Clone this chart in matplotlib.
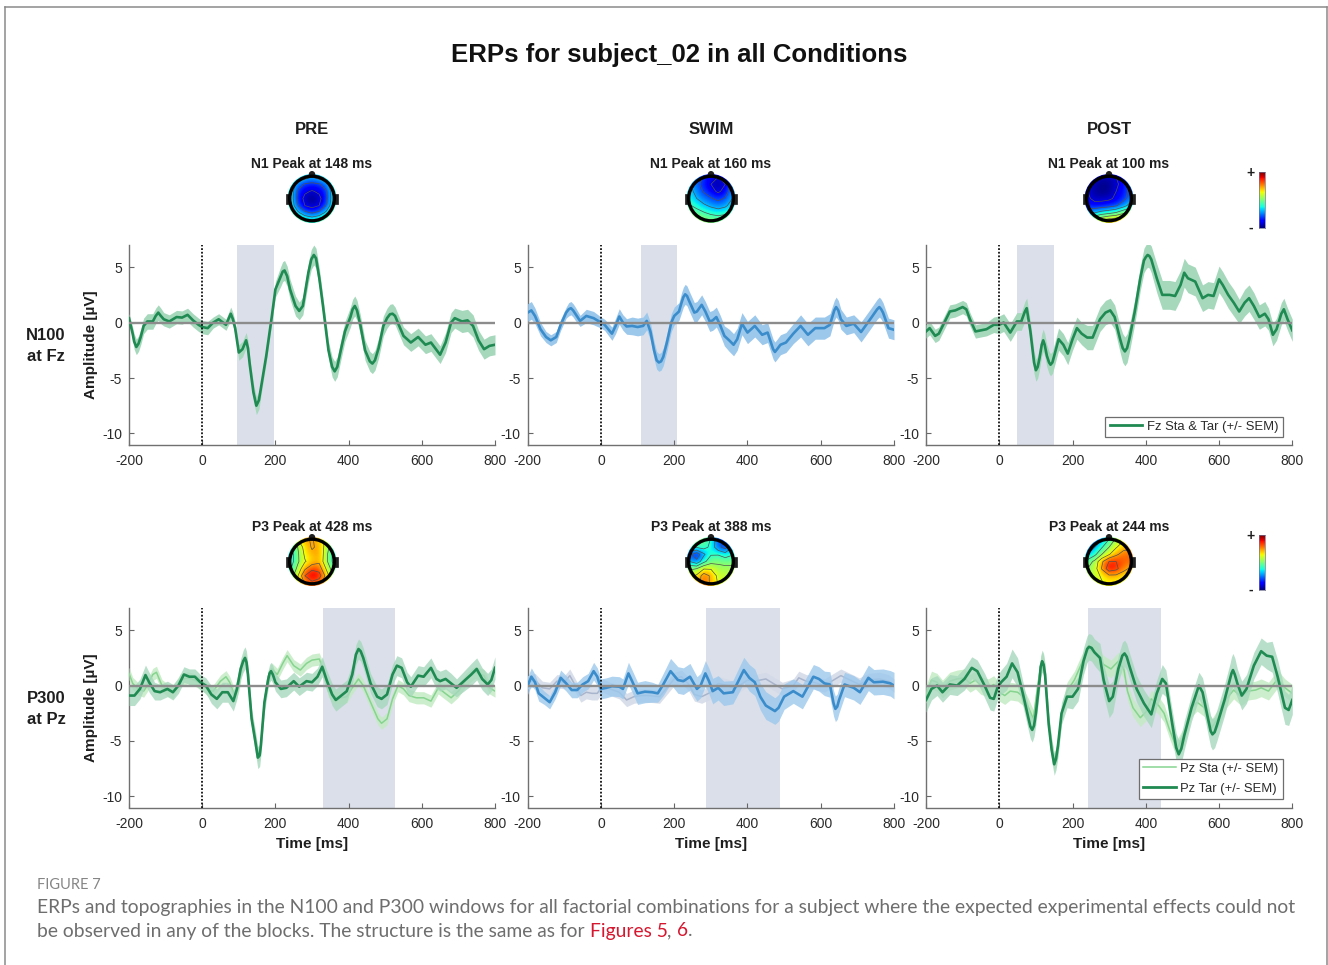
"""Recreate the ERP / topography figure (subject_02, all conditions)."""
import numpy as np
import matplotlib
matplotlib.use("Agg")
import matplotlib.pyplot as plt
from matplotlib.lines import Line2D
from matplotlib.patches import Circle, Rectangle

plt.rcParams["font.family"] = ["Liberation Sans", "DejaVu Sans"]
plt.rcParams["axes.unicode_minus"] = False

W, H = 1328, 965
COLS = ["PRE", "SWIM", "POST"]
N1_TITLES = ["N1 Peak at 148 ms", "N1 Peak at 160 ms", "N1 Peak at 100 ms"]
P3_TITLES = ["P3 Peak at 428 ms", "P3 Peak at 388 ms", "P3 Peak at 244 ms"]
X_TICKS = [-200, 0, 200, 400, 600, 800]
Y_TICKS = [-10, -5, 0, 5]

# grey analysis windows, ms
N1_WIN = [(96, 196), (108, 208), (49, 149)]
P3_WIN = [(329, 528), (288, 488), (241, 441)]

# --- N100 at Fz
pre_fz_t = [-200, -190, -186, -180, -174, -168, -160, -150, -135, -127, -120, -113, -105, -90,
            -70, -55, -40, -25, -10, 0, 15, 30, 45, 65,
            78, 84, 90, 100, 110, 120, 125, 130, 140, 148, 155, 160, 175, 190,
            200, 215, 220, 225, 232, 240, 255, 265, 275, 290, 298, 305, 311, 320,
            330, 345, 355, 362, 369, 378, 390, 405, 411, 417, 423, 432, 445, 458, 465, 472,
            482, 495, 505, 513, 520, 527, 537, 550, 570, 590, 610, 625,
            650, 665, 680, 690, 710, 725, 740, 755, 770, 785, 800]
pre_fz_v = [0.4, -1.0, -1.7, -2.2, -1.9, -1.3, -0.3, 0.1, 0.1, 0.6, 0.9, 0.6, 0.3, 0.1,
            0.5, 0.45, 0.7, 0.2, -0.2, -0.4, -0.5, 0.0, 0.3, -0.2,
            0.8, 0.3, -0.5, -2.7, -2.4, -1.6, -2.3, -3.8, -6.3, -7.5, -7.0, -6.0, -3.0, 0.5,
            3.0, 4.2, 4.6, 4.7, 4.2, 3.0, 1.5, 1.05, 1.5, 4.5, 5.7, 6.1, 5.8, 4.0,
            1.5, -2.5, -4.0, -4.4, -4.0, -2.6, -0.8, 0.5, 1.2, 1.5, 1.1, -0.2, -2.5, -3.5, -3.7, -3.4,
            -2.3, -0.3, 0.4, 0.75, 0.8, 0.6, -0.2, -1.2, -1.8, -1.3, -2.0, -1.8,
            -2.9, -1.8, 0.0, 0.4, 0.1, 0.2, -0.3, -1.6, -2.4, -2.1, -2.0]
pre_fz_s = [0.4, 0.6, 0.7, 0.7, 0.7, 0.7, 0.7, 0.7, 0.7, 0.7, 0.7, 0.7, 0.6, 0.6,
            0.6, 0.6, 0.6, 0.6, 0.6, 0.6, 0.6, 0.5, 0.5, 0.5,
            0.6, 0.6, 0.6, 0.7, 0.7, 0.7, 0.7, 0.7, 0.8, 0.8, 0.8, 0.7, 0.6, 0.6,
            0.7, 0.9, 0.9, 0.9, 0.9, 0.9, 0.9, 0.8, 0.8, 0.9, 0.9, 0.9, 0.9, 0.9,
            0.8, 0.8, 0.9, 0.9, 0.9, 0.9, 0.9, 0.9, 0.9, 0.9, 0.9, 0.9, 0.9, 0.9, 0.9, 0.9,
            0.9, 0.9, 0.9, 0.9, 0.9, 0.8, 0.8, 0.8, 0.8, 0.8, 0.8, 0.8,
            0.8, 0.9, 0.9, 0.9, 1.0, 1.0, 1.0, 0.9, 0.9, 0.9, 0.9]

swim_fz_t = [-200, -190, -180, -165, -150, -137, -122, -110, -95, -88, -82, -76,
             -70, -57, -40, -20, 0, 10, 30, 40, 50, 60,
             70, 85, 100, 115, 125, 135, 145, 152, 158, 164, 170, 180,
             192, 200, 213, 220, 225, 230, 235, 240, 255, 262, 275, 285,
             297, 305, 315, 325, 337, 350, 362, 372, 385, 400,
             420, 440, 455, 470, 475, 481, 490, 505, 525, 545, 565, 585,
             610, 625, 637, 642, 648, 655, 670, 690, 710, 735, 754, 760, 765, 770, 785, 800]
swim_fz_v = [0.9, 1.1, 0.6, -0.6, -1.3, -1.6, -1.3, -0.2, 0.9, 1.2, 1.3, 1.1,
             0.8, 0.15, 0.6, 0.4, 0.0, -0.2, -1.0, -0.3, 0.55, 0.0,
             -0.35, -0.3, -0.4, -0.3, 0.15, -0.8, -2.5, -3.4, -3.6, -3.5, -3.1, -1.8,
             0.0, 0.6, 1.0, 1.8, 2.3, 2.55, 2.4, 2.0, 0.9, 1.0, 1.6, 1.0,
             0.1, 0.2, 0.5, -0.2, -1.2, -1.6, -2.0, -1.5, -0.1, -0.9,
             -0.3, -1.1, -0.9, -2.4, -2.65, -2.4, -2.0, -1.8, -1.0, -0.3, -1.1, -0.5,
             -0.5, -0.2, 1.1, 1.4, 1.1, 0.3, -0.3, -0.1, -0.85, 0.3, 1.2, 1.4, 1.2, 0.9, -0.5, -0.65]
swim_fz_s = [0.8, 0.8, 0.7, 0.6, 0.5, 0.5, 0.5, 0.5, 0.5, 0.6, 0.6, 0.6,
             0.6, 0.5, 0.6, 0.6, 0.5, 0.5, 0.6, 0.7, 0.7, 0.7,
             0.7, 0.8, 0.8, 0.8, 0.8, 0.8, 0.8, 0.8, 0.8, 0.8, 0.8, 0.8,
             0.8, 0.8, 0.8, 0.9, 0.9, 0.9, 0.9, 0.9, 0.9, 0.9, 0.9, 0.9,
             0.9, 0.9, 0.9, 0.9, 0.9, 1.0, 1.0, 1.0, 1.0, 1.0,
             1.0, 0.9, 0.9, 0.9, 0.9, 0.9, 0.9, 0.9, 0.9, 1.0, 1.0, 1.0,
             1.0, 1.0, 0.9, 0.9, 0.9, 0.9, 0.8, 0.8, 0.9, 0.9, 0.9, 0.9, 0.9, 0.9, 0.9, 0.9]

post_fz_t = [-200, -190, -175, -165, -150, -135, -120, -100, -90, -80,
             -65, -50, -35, -15, 0, 12, 30, 48, 60, 70, 75,
             85, 95, 100, 105, 110, 116, 120, 124, 130, 136, 140, 145, 150, 162, 175, 187,
             200, 212, 225, 240, 255, 275, 290, 303, 315, 330,
             337, 343, 349, 355, 370, 385, 395, 400, 405, 410, 415, 430, 445, 465,
             480, 495, 505, 515, 535, 555, 570, 585, 600, 610,
             625, 640, 655, 670, 682, 695, 710, 725, 735, 747,
             757, 770, 777, 787, 800]
post_fz_v = [-0.8, -0.5, -1.2, -1.0, 0.0, 1.0, 1.1, 1.4, 1.2, 0.3,
             -0.8, -0.7, -0.6, -0.2, -0.2, 0.0, -0.9, 0.1, 0.1, 1.0, 1.3,
             -0.8, -3.6, -4.3, -4.0, -3.2, -2.0, -1.6, -2.0, -3.0, -3.6, -3.8, -3.6, -3.0, -1.5, -2.0, -2.8,
             -1.5, -0.5, -1.0, -1.35, -1.35, 0.3, 0.9, 1.1, 0.5, -1.5,
             -2.3, -2.6, -2.3, -1.5, 1.0, 4.0, 5.6, 5.9, 6.1, 6.0, 5.7, 4.0, 2.5, 2.5,
             2.4, 3.4, 4.5, 4.0, 3.7, 2.2, 2.5, 2.4, 3.9, 3.4,
             2.5, 1.8, 1.0, 1.8, 2.2, 1.5, 0.5, 0.8, 0.3, -1.1,
             -0.6, 0.8, 1.2, 0.3, -0.7]
post_fz_s = [0.6, 0.6, 0.6, 0.6, 0.6, 0.6, 0.6, 0.6, 0.6, 0.6,
             0.6, 0.6, 0.6, 0.7, 0.8, 0.8, 0.8, 0.8, 0.8, 0.9, 0.9,
             0.9, 1.0, 1.0, 1.0, 1.0, 1.0, 1.0, 1.0, 1.0, 1.0, 1.0, 1.0, 1.0, 1.0, 1.0, 1.0,
             1.0, 1.0, 1.0, 1.1, 1.1, 1.1, 1.1, 1.1, 1.1, 1.2,
             1.3, 1.3, 1.3, 1.2, 1.1, 1.1, 1.1, 1.1, 1.1, 1.1, 1.2, 1.3, 1.3, 1.3,
             1.3, 1.3, 1.3, 1.3, 1.3, 1.2, 1.2, 1.2, 1.2, 1.2,
             1.2, 1.2, 1.1, 1.2, 1.2, 1.2, 1.1, 1.1, 1.0, 1.0,
             1.0, 1.0, 1.0, 1.0, 1.0]

# --- P300 at Pz, targets
pre_tar_t = [-200, -185, -170, -155, -145, -130, -115, -95, -80, -65,
             -50, -35, -20, -5, 10, 25, 40, 55, 70, 85,
             95, 105, 112, 117, 121, 125, 135, 145, 152, 157, 160, 170, 180, 184, 188, 193,
             200, 215, 230, 250, 265, 285, 300, 315, 328, 340,
             355, 365, 380, 395, 410, 420, 427, 433, 440, 460, 478, 490,
             505, 520, 532, 545, 560, 570, 590, 605, 625, 640,
             650, 665, 680, 695, 715, 735, 750, 765, 780, 790, 800]
pre_tar_v = [-0.9, -0.9, -0.3, 0.95, 0.3, -0.5, -0.6, -0.3, -0.6, 0.0,
             1.0, 0.8, 0.8, 0.3, 0.0, -0.8, -1.2, -0.6, -0.6, -1.4,
             -0.3, 1.5, 2.2, 2.5, 2.1, 1.0, -3.0, -5.0, -6.5, -6.3, -5.5, -1.5, 0.5, 1.1, 1.3, 1.0,
             0.3, -0.3, -0.2, 0.4, -0.1, 0.4, 0.3, 0.8, 1.7, 0.5,
             -0.8, -1.3, -0.9, -0.5, 1.0, 2.8, 3.3, 3.1, 2.5, 0.2, -1.0, -1.2,
             -0.8, 1.0, 1.8, 1.6, 0.3, -0.1, 0.9, 0.8, 1.6, 0.6,
             0.4, 0.6, 0.2, -0.2, 0.4, 1.0, 1.5, 0.6, 0.1, 0.5, 1.6]
pre_tar_s = [0.9, 0.9, 0.9, 0.9, 0.9, 0.8, 0.7, 0.7, 0.7, 0.7,
             0.7, 0.7, 0.7, 0.7, 0.7, 0.8, 0.9, 0.9, 0.9, 0.9,
             0.9, 0.9, 1.0, 1.0, 1.0, 0.9, 0.9, 1.0, 1.0, 1.0, 0.9, 0.9, 0.8, 0.8, 0.8, 0.8,
             0.8, 0.8, 0.8, 0.8, 0.8, 0.8, 0.8, 0.8, 0.9, 0.9,
             1.0, 1.0, 1.0, 1.0, 0.9, 0.9, 0.9, 0.9, 0.9, 0.9, 0.9, 0.9,
             0.9, 0.9, 0.9, 0.9, 0.9, 0.9, 0.9, 0.9, 0.9, 0.9,
             0.9, 0.9, 0.9, 0.8, 0.9, 1.0, 1.0, 1.0, 1.0, 1.0, 1.0]
swim_tar_t = [-200, -190, -180, -170, -155, -140, -125, -110, -95, -80,
              -65, -50, -35, -20, -10, 0, 15, 30, 50, 60,
              75, 85, 100, 120, 140, 155, 170, 190, 210, 225,
              243, 262, 272, 285, 295, 305, 320, 335, 360, 372,
              390, 405, 420, 435, 450, 475, 485, 500, 525, 540,
              550, 565, 580, 595, 610, 625, 635, 640, 645, 650, 665, 690,
              707, 730, 745, 770, 790, 800]
swim_tar_v = [0.0, 0.8, 0.3, -0.7, -1.1, -1.5, -0.6, 0.7, 0.2, -0.4,
              -0.4, 0.1, 0.4, 1.3, 0.8, -0.3, -0.2, -0.05, -0.1, -0.3,
              1.1, 0.4, -0.7, -0.55, -0.6, -0.7, 0.1, 1.3, 0.5, 0.4,
              0.8, -0.3, 0.0, 1.1, 0.4, -0.5, -0.2, -0.7, -0.6, 0.2,
              1.4, 0.7, 0.3, -1.0, -1.8, -2.3, -2.0, -1.0, -0.5, -0.8,
              -1.0, -0.1, 0.8, 0.6, 0.2, 0.1, -1.6, -2.1, -1.9, -1.3, 0.1, -0.2,
              -0.6, 0.7, 0.3, 0.35, 0.2, 0.0]
swim_tar_s = [0.8, 0.8, 0.7, 0.7, 0.6, 0.6, 0.6, 0.7, 0.7, 0.7,
              0.7, 0.7, 0.7, 0.8, 0.8, 0.9, 0.9, 0.9, 0.9, 0.9,
              1.0, 1.0, 1.0, 1.0, 0.9, 0.8, 1.0, 1.15, 1.2, 1.2,
              1.2, 1.1, 1.1, 1.15, 1.15, 1.15, 1.1, 1.1, 1.05, 1.1,
              1.15, 1.2, 1.2, 1.2, 1.25, 1.2, 1.2, 1.15, 1.1, 1.1,
              1.1, 1.1, 1.1, 1.1, 1.1, 1.15, 1.15, 1.15, 1.15, 1.15, 1.1, 1.1,
              1.1, 1.15, 1.15, 1.15, 1.15, 1.2]
post_tar_t = [-200, -185, -170, -155, -135, -115, -95, -75, -60, -40,
              -25, -15, -5, 5, 20, 35, 50, 65, 80, 85, 90, 95,
              100, 110, 113, 117, 121, 125, 135, 143, 150, 155, 160, 170, 185, 200,
              215, 230, 240, 245, 252, 260, 275, 285, 300, 310, 325, 336, 342, 348,
              355, 375, 395, 415, 430, 445, 455, 470, 483, 490, 497, 505,
              525, 545, 555, 570, 577, 582, 588, 595, 615, 630, 634, 638, 643, 650,
              662, 675, 695, 715, 730, 745, 760, 780, 790, 800]
post_tar_v = [-1.3, -0.3, 0.0, -0.6, 0.1, 0.0, 0.6, 1.6, 1.3, 0.0,
              -1.1, -1.2, -0.2, 0.3, 0.8, 2.0, 1.2, -0.8, -3.0, -3.7, -4.0, -3.6,
              -2.5, 0.5, 1.7, 2.2, 1.9, 1.0, -3.5, -5.8, -7.1, -6.6, -5.5, -2.5, -1.0, -1.0,
              -0.3, 2.2, 3.3, 3.5, 3.4, 3.0, 2.5, 0.5, -1.4, -1.0, 1.5, 2.7, 2.9, 2.6,
              1.8, -0.3, -1.6, -2.6, -0.7, 0.6, 0.2, -3.0, -5.6, -6.2, -5.7, -4.5,
              -2.0, 0.0, -0.6, -3.0, -4.1, -4.4, -4.2, -3.5, -1.3, 0.6, 1.1, 1.4, 1.0, 0.2,
              -0.9, -0.3, 1.8, 3.1, 2.7, 2.6, 0.8, -2.0, -2.2, -1.3]
post_tar_s = [1.1, 1.0, 0.9, 0.9, 0.9, 0.9, 1.0, 1.0, 1.0, 1.1,
              1.1, 1.1, 1.1, 1.1, 1.2, 1.3, 1.3, 1.1, 1.1, 1.1, 1.1, 1.0,
              1.0, 1.0, 1.0, 1.0, 1.0, 1.0, 1.0, 1.0, 1.0, 1.0, 1.0, 1.0, 1.0, 1.1,
              1.1, 1.2, 1.2, 1.2, 1.2, 1.2, 1.3, 1.4, 1.5, 1.4, 1.2, 1.2, 1.2, 1.2,
              1.2, 1.2, 1.2, 1.2, 1.2, 1.3, 1.2, 1.2, 1.3, 1.3, 1.3, 1.3,
              1.2, 1.2, 1.3, 1.4, 1.4, 1.4, 1.4, 1.4, 1.4, 1.4, 1.5, 1.5, 1.5, 1.3,
              1.3, 1.3, 1.2, 1.2, 1.2, 1.4, 1.5, 1.5, 1.4, 1.3]

# --- P300 at Pz, standards
pre_sta_t = [-200, -190, -175, -160, -150, -135, -125, -110, -95, -80,
             -60, -40, -20, 0, 15, 30, 50, 65, 75, 90,
             100, 112, 117, 121, 125, 135, 145, 152, 157, 160, 170, 180, 190, 205,
             220, 232, 250, 268, 285, 300, 320, 330, 345, 360,
             380, 395, 410, 427, 440, 460, 480, 490, 505, 520,
             535, 550, 565, 585, 605, 625, 645, 660, 680, 700,
             720, 745, 770, 785, 800]
pre_sta_v = [1.1, 0.2, -0.3, -0.5, 0.0, 1.0, 1.2, 0.0, -0.4, -0.6,
             0.5, 0.7, 0.5, 0.1, -0.4, -0.5, 0.4, 0.8, 0.3, -1.0,
             0.0, 2.2, 2.5, 2.1, 1.0, -3.0, -4.9, -6.3, -6.1, -5.4, -1.5, 0.8, 1.5, 1.0,
             2.0, 2.7, 1.8, 1.4, 2.0, 2.3, 2.4, 1.5, -0.5, -1.0,
             -1.1, -1.0, -0.2, 0.6, 0.0, -1.5, -3.0, -3.4, -3.0, -1.2,
             0.0, -0.3, -0.9, -1.1, -1.1, -1.4, -0.2, -0.6, -1.1, -0.5,
             0.5, 1.2, 0.9, -0.2, -0.5]
pre_sta_s = [0.55] * len(pre_sta_t)
swim_sta_t = [-200, -180, -160, -140, -120, -100, -85, -70, -55, -40,
              -25, -10, 5, 25, 50, 70, 90, 110, 130, 160,
              180, 200, 220, 240, 255, 275, 300, 320, 345, 365,
              400, 420, 450, 470, 495, 525, 540, 560, 580, 610,
              635, 655, 680, 705, 730, 760, 785, 800]
swim_sta_v = [0.3, 0.5, -0.2, -0.3, 0.4, 0.3, 0.9, 0.0, -0.9, -0.6,
              -0.7, -0.7, 0.0, -0.3, -0.6, -1.3, -1.0, -0.9, -0.9, -1.0,
              -0.2, 0.6, 0.8, 0.1, -0.8, -1.0, -0.6, 0.2, 0.0, -0.3,
              0.5, 0.4, 0.6, 0.2, -0.3, 0.0, 0.7, 0.4, 0.3, 0.0,
              0.5, 0.9, 0.5, 0.1, 0.5, 0.6, 0.4, 0.0]
swim_sta_s = [0.6] * len(swim_sta_t)
post_sta_t = [-200, -185, -170, -155, -135, -115, -95, -80, -65, -50,
              -30, -15, 0, 15, 30, 50, 65, 80, 93, 105,
              113, 117, 121, 125, 135, 143, 150, 155, 160, 170, 185, 205, 225, 245,
              265, 285, 305, 325, 340, 350, 365, 385, 400, 415,
              435, 450, 465, 485, 505, 525, 540, 560, 580, 600,
              620, 640, 660, 680, 700, 715, 735, 760, 780, 800]
post_sta_v = [-0.8, 0.5, 0.3, -0.3, 0.4, 0.6, 0.7, 0.2, 0.5, 0.0,
              -0.2, 0.1, -0.6, -0.9, -0.5, -0.6, -1.0, -2.0, -3.0, 0.0,
              1.7, 2.2, 1.9, 1.0, -3.5, -5.6, -6.9, -6.5, -5.5, -2.6, -0.5, 0.5, 2.0, 3.3,
              2.8, 1.9, 1.5, 2.2, 1.5, -0.5, -2.0, -2.9, -2.4, -1.2,
              -1.8, -2.5, -4.0, -5.7, -4.5, -2.0, -1.5, -2.0, -3.8, -2.8,
              -1.2, -0.4, -1.0, -0.5, -0.4, -0.2, -0.5, 0.6, -0.2, -0.7]
post_sta_s = [0.8] * len(post_sta_t)

# --- scalp maps, 0 = minimum of colour scale, 1 = maximum; front of the head on top
topo_n1_pre = [[.45, .40, .35, .30, .35, .40, .45],
               [.40, .25, .18, .16, .18, .25, .40],
               [.38, .18, .10, .07, .10, .18, .38],
               [.38, .16, .05, .01, .05, .16, .38],
               [.40, .20, .08, .04, .08, .20, .40],
               [.45, .33, .22, .18, .22, .33, .45],
               [.55, .50, .42, .38, .42, .50, .55]]
topo_n1_swim = [[.30, .25, .18, .10, .08, .15, .30],
                [.32, .22, .15, .08, .02, .08, .25],
                [.35, .25, .18, .12, .06, .12, .28],
                [.38, .30, .24, .20, .16, .20, .30],
                [.42, .38, .32, .28, .25, .28, .35],
                [.50, .45, .42, .38, .36, .38, .42],
                [.58, .55, .52, .50, .48, .50, .52]]
topo_n1_post = [[.10, .08, .05, .05, .08, .15, .30],
                [.08, .04, .01, .02, .06, .12, .25],
                [.08, .03, .01, .02, .08, .14, .22],
                [.10, .05, .05, .06, .10, .16, .24],
                [.15, .12, .13, .15, .18, .25, .35],
                [.25, .30, .35, .38, .42, .50, .55],
                [.45, .55, .62, .68, .70, .68, .65]]
topo_p3_pre = [[.55, .62, .72, .75, .70, .60, .50],
               [.40, .52, .68, .75, .72, .58, .42],
               [.35, .50, .65, .72, .74, .55, .38],
               [.35, .50, .62, .68, .72, .55, .38],
               [.40, .55, .72, .82, .80, .62, .45],
               [.45, .62, .85, .95, .90, .70, .50],
               [.50, .62, .75, .82, .78, .68, .55]]
topo_p3_swim = [[.55, .52, .48, .40, .22, .18, .30],
                [.42, .42, .45, .38, .22, .15, .30],
                [.22, .12, .28, .40, .40, .35, .40],
                [.30, .22, .38, .48, .50, .48, .48],
                [.50, .52, .62, .62, .55, .55, .55],
                [.60, .65, .80, .72, .60, .58, .58],
                [.65, .68, .80, .72, .62, .60, .60]]
topo_p3_post = [[.22, .22, .30, .42, .55, .62, .65],
                [.25, .30, .40, .52, .62, .70, .72],
                [.30, .38, .52, .62, .72, .78, .80],
                [.45, .55, .72, .85, .85, .82, .80],
                [.52, .58, .75, .92, .88, .78, .72],
                [.55, .58, .65, .72, .72, .68, .65],
                [.58, .60, .62, .65, .65, .62, .60]]

GREEN, GREEN_BAND = "#1F8A52", "#A6D8BC"
BLUE, BLUE_BAND = "#3B8CCB", "#9CC8EC"
GREEN_STA, GREEN_STA_BAND = "#86D48F", "#C4EBC4"
GREY_STA, GREY_STA_BAND = "#A9B5CC", "#D3DAE7"
WIN_COL = "#DADFEA"
TXT = "#1E1E1E"

COL_PX = [(129, 495), (527.7, 894), (926, 1292.3)]
ROW_PX = [(245, 444.5), (608, 807.5)]
HEAD_X = [312, 711, 1109]
HEAD_Y = [198.5, 561.5]


fig = plt.figure(figsize=(W / 100, H / 100), dpi=100, facecolor="white")


def px_axes(l, t, r, b, **kw):
    return fig.add_axes([l / W, 1 - b / H, (r - l) / W, (b - t) / H], **kw)


def ftext(x, y, s, **kw):
    kw.setdefault("ha", "center")
    kw.setdefault("va", "center")
    kw.setdefault("color", TXT)
    return fig.text(x / W, 1 - y / H, s, **kw)


def curve(ax, t, v, s, col, band, lw, alpha=1.0, z=3):
    t, v, s = np.array(t), np.array(v), np.array(s)
    ax.fill_between(t, v - s, v + s, color=band, lw=0, alpha=alpha, zorder=z)
    ax.plot(t, v, color=col, lw=lw, zorder=z + 0.1, solid_joinstyle="round")


def erp_axes(c, r, win):
    l, rgt = COL_PX[c]
    top, bot = ROW_PX[r]
    ax = px_axes(l, top, rgt, bot)
    ax.set_xlim(-200, 800); ax.set_ylim(-11, 7)
    ax.set_xticks(X_TICKS); ax.set_yticks(Y_TICKS)
    ax.tick_params(direction="in", length=3.5, width=0.8, color="#666666",
                   labelsize=10, labelcolor="#2A2A2A", pad=5)
    ax.tick_params(axis="x", pad=7)
    for sp in ("top", "right"):
        ax.spines[sp].set_visible(False)
    for sp in ("left", "bottom"):
        ax.spines[sp].set_color("#707070"); ax.spines[sp].set_linewidth(1.0)
    ax.axvspan(win[0], win[1], color=WIN_COL, lw=0, zorder=1)
    ax.axhline(0, color="#8C8C8C", lw=1.7, zorder=6)
    ax.axvline(0, color="#111111", lw=1.3, ls=(0, (1, 1)), zorder=7)
    return ax


def head(cx, cy, grid):
    ax = px_axes(cx - 32, cy - 32, cx + 32, cy + 32)
    ax.set_xlim(-32, 32); ax.set_ylim(-32, 32); ax.axis("off")
    g = np.array(grid)
    disk = Circle((0, 0), 24.5, transform=ax.transData)
    im = ax.imshow(g, cmap="jet", vmin=0, vmax=1, extent=(-25, 25, -25, 25),
                   interpolation="bicubic", aspect="equal", zorder=1)
    im.set_clip_path(disk)
    xx = np.linspace(-21.4, 21.4, g.shape[1])
    cs = ax.contour(xx, xx[::-1], g, levels=np.arange(0.08, 1, 0.11),
                    colors="#505050", linewidths=0.5, zorder=2)
    cs.set_clip_path(Circle((0, 0), 22, transform=ax.transData))
    ax.add_patch(Circle((0, 0), 22.3, fill=False, ec="black", lw=2.4, zorder=4))
    ax.add_patch(Circle((0, 24.3), 3.2, fc="#202020", ec="none", zorder=3))
    for sgn in (-1, 1):
        ax.add_patch(Rectangle((sgn * 24 - 2.2, -5), 4.4, 10, fc="#202020", ec="#202020", lw=0.5, zorder=3))


def colorbar(top, bot):
    ax = px_axes(1259, top, 1265, bot)
    ax.imshow(np.linspace(1, 0, 64)[:, None], cmap="jet", aspect="auto")
    ax.set_xticks([]); ax.set_yticks([])
    for sp in ax.spines.values():
        sp.set_color("#707090"); sp.set_linewidth(0.5)
    ftext(1250.5, top + 1, "+", fontsize=10, fontweight="bold")
    ftext(1250.5, bot, "-", fontsize=10, fontweight="bold")


def px_legend(ax, handles, r, b):
    leg = ax.legend(handles=handles, loc="lower right", bbox_to_anchor=(r / W, 1 - b / H),
                    bbox_transform=fig.transFigure, prop=dict(size=9.4), fancybox=False, framealpha=1,
                    edgecolor="#6E6E6E", borderaxespad=0, borderpad=0.32, labelspacing=0.6,
                    handlelength=2.5, handletextpad=0.35, labelcolor="#2A2A2A")
    leg.get_frame().set_linewidth(0.9)
    leg.set_zorder(20)
    return leg


# frame of the page
for xs, ys in ([(4.5, 4.5), (965, 6.5)], [(4.5, 1327), (6.5, 6.5)], [(1327, 1327), (6.5, 965)]):
    fig.add_artist(Line2D([x / W for x in xs], [1 - y / H for y in ys], color="#8A8A8A", lw=1.1))

ftext(679, 55, "ERPs for subject_02 in all Conditions", fontsize=18.5, fontweight="bold", color="#111111")

# top row
top_data = [(pre_fz_t, pre_fz_v, pre_fz_s, GREEN, GREEN_BAND),
            (swim_fz_t, swim_fz_v, swim_fz_s, BLUE, BLUE_BAND),
            (post_fz_t, post_fz_v, post_fz_s, GREEN, GREEN_BAND)]
top_axes = []
for c in range(3):
    ax = erp_axes(c, 0, N1_WIN[c])
    t, v, s, col, band = top_data[c]
    curve(ax, t, v, s, col, band, 1.9)
    top_axes.append(ax)
px_legend(top_axes[2], [Line2D([], [], color=GREEN, lw=2, label="Fz Sta & Tar (+/- SEM)")], 1282.5, 437)

# bottom row
bot_data = [((pre_sta_t, pre_sta_v, pre_sta_s), (pre_tar_t, pre_tar_v, pre_tar_s),
             GREEN_STA, GREEN_STA_BAND, GREEN, GREEN_BAND),
            ((swim_sta_t, swim_sta_v, swim_sta_s), (swim_tar_t, swim_tar_v, swim_tar_s),
             GREY_STA, GREY_STA_BAND, BLUE, BLUE_BAND),
            ((post_sta_t, post_sta_v, post_sta_s), (post_tar_t, post_tar_v, post_tar_s),
             GREEN_STA, GREEN_STA_BAND, GREEN, GREEN_BAND)]
bot_axes = []
for c in range(3):
    ax = erp_axes(c, 1, P3_WIN[c])
    sta, tar, c1, b1, c2, b2 = bot_data[c]
    curve(ax, *sta, c1, b1, 1.1, alpha=0.85, z=3)
    curve(ax, *tar, c2, b2, 1.9, alpha=0.8, z=4)
    ax.set_xlabel("Time [ms]", fontsize=11, fontweight="bold", color=TXT, labelpad=4)
    bot_axes.append(ax)
px_legend(bot_axes[2], [Line2D([], [], color=GREEN_STA, lw=1.1, label="Pz Sta (+/- SEM)"),
                        Line2D([], [], color=GREEN, lw=2, label="Pz Tar (+/- SEM)")], 1282.5, 799)

for ax in (top_axes[0], bot_axes[0]):
    ax.set_ylabel("Amplitude [µV]", fontsize=11, fontweight="bold", color=TXT)
    ax.yaxis.set_label_coords(-0.085, 0.5)

# headers, maps
n1_topos = [topo_n1_pre, topo_n1_swim, topo_n1_post]
p3_topos = [topo_p3_pre, topo_p3_swim, topo_p3_post]
for c in range(3):
    ftext(HEAD_X[c], 130, COLS[c], fontsize=12, fontweight="bold")
    ftext(HEAD_X[c], 164.5, N1_TITLES[c], fontsize=10, fontweight="bold")
    ftext(HEAD_X[c], 527, P3_TITLES[c], fontsize=10, fontweight="bold")
    head(HEAD_X[c], HEAD_Y[0], n1_topos[c])
    head(HEAD_X[c], HEAD_Y[1], p3_topos[c])
colorbar(172, 228)
colorbar(535, 590)

ftext(46, 346, "N100\nat Fz", fontsize=12, fontweight="bold", linespacing=1.45)
ftext(46, 709, "P300\nat Pz", fontsize=12, fontweight="bold", linespacing=1.45)

# caption
CAP = "#6E6E6E"
cap_font = dict(family="Lato", fontsize=13.88, ha="left", va="center", color=CAP)
ftext(37, 885, "FIGURE 7", family="Lato", fontsize=10.5, ha="left", color="#858585")
ftext(37, 907, "ERPs and topographies in the N100 and P300 windows for all factorial combinations for a subject "
      "where the expected experimental effects could not", **cap_font)
t1 = ftext(37, 931, "be observed in any of the blocks. The structure is the same as for ", **cap_font)
fig.canvas.draw()
rend = fig.canvas.get_renderer()
x1 = t1.get_window_extent(rend).x1
t2 = ftext(x1, 931, "Figures 5", **{**cap_font, "color": "#D5182F"})
x2 = t2.get_window_extent(rend).x1
t3 = ftext(x2, 931, ", ", **cap_font)
x3 = t3.get_window_extent(rend).x1
t4 = ftext(x3, 931, "6", **{**cap_font, "color": "#D5182F"})
ftext(t4.get_window_extent(rend).x1, 931, ".", **cap_font)

fig.savefig("out.png", dpi=100, facecolor="white")
